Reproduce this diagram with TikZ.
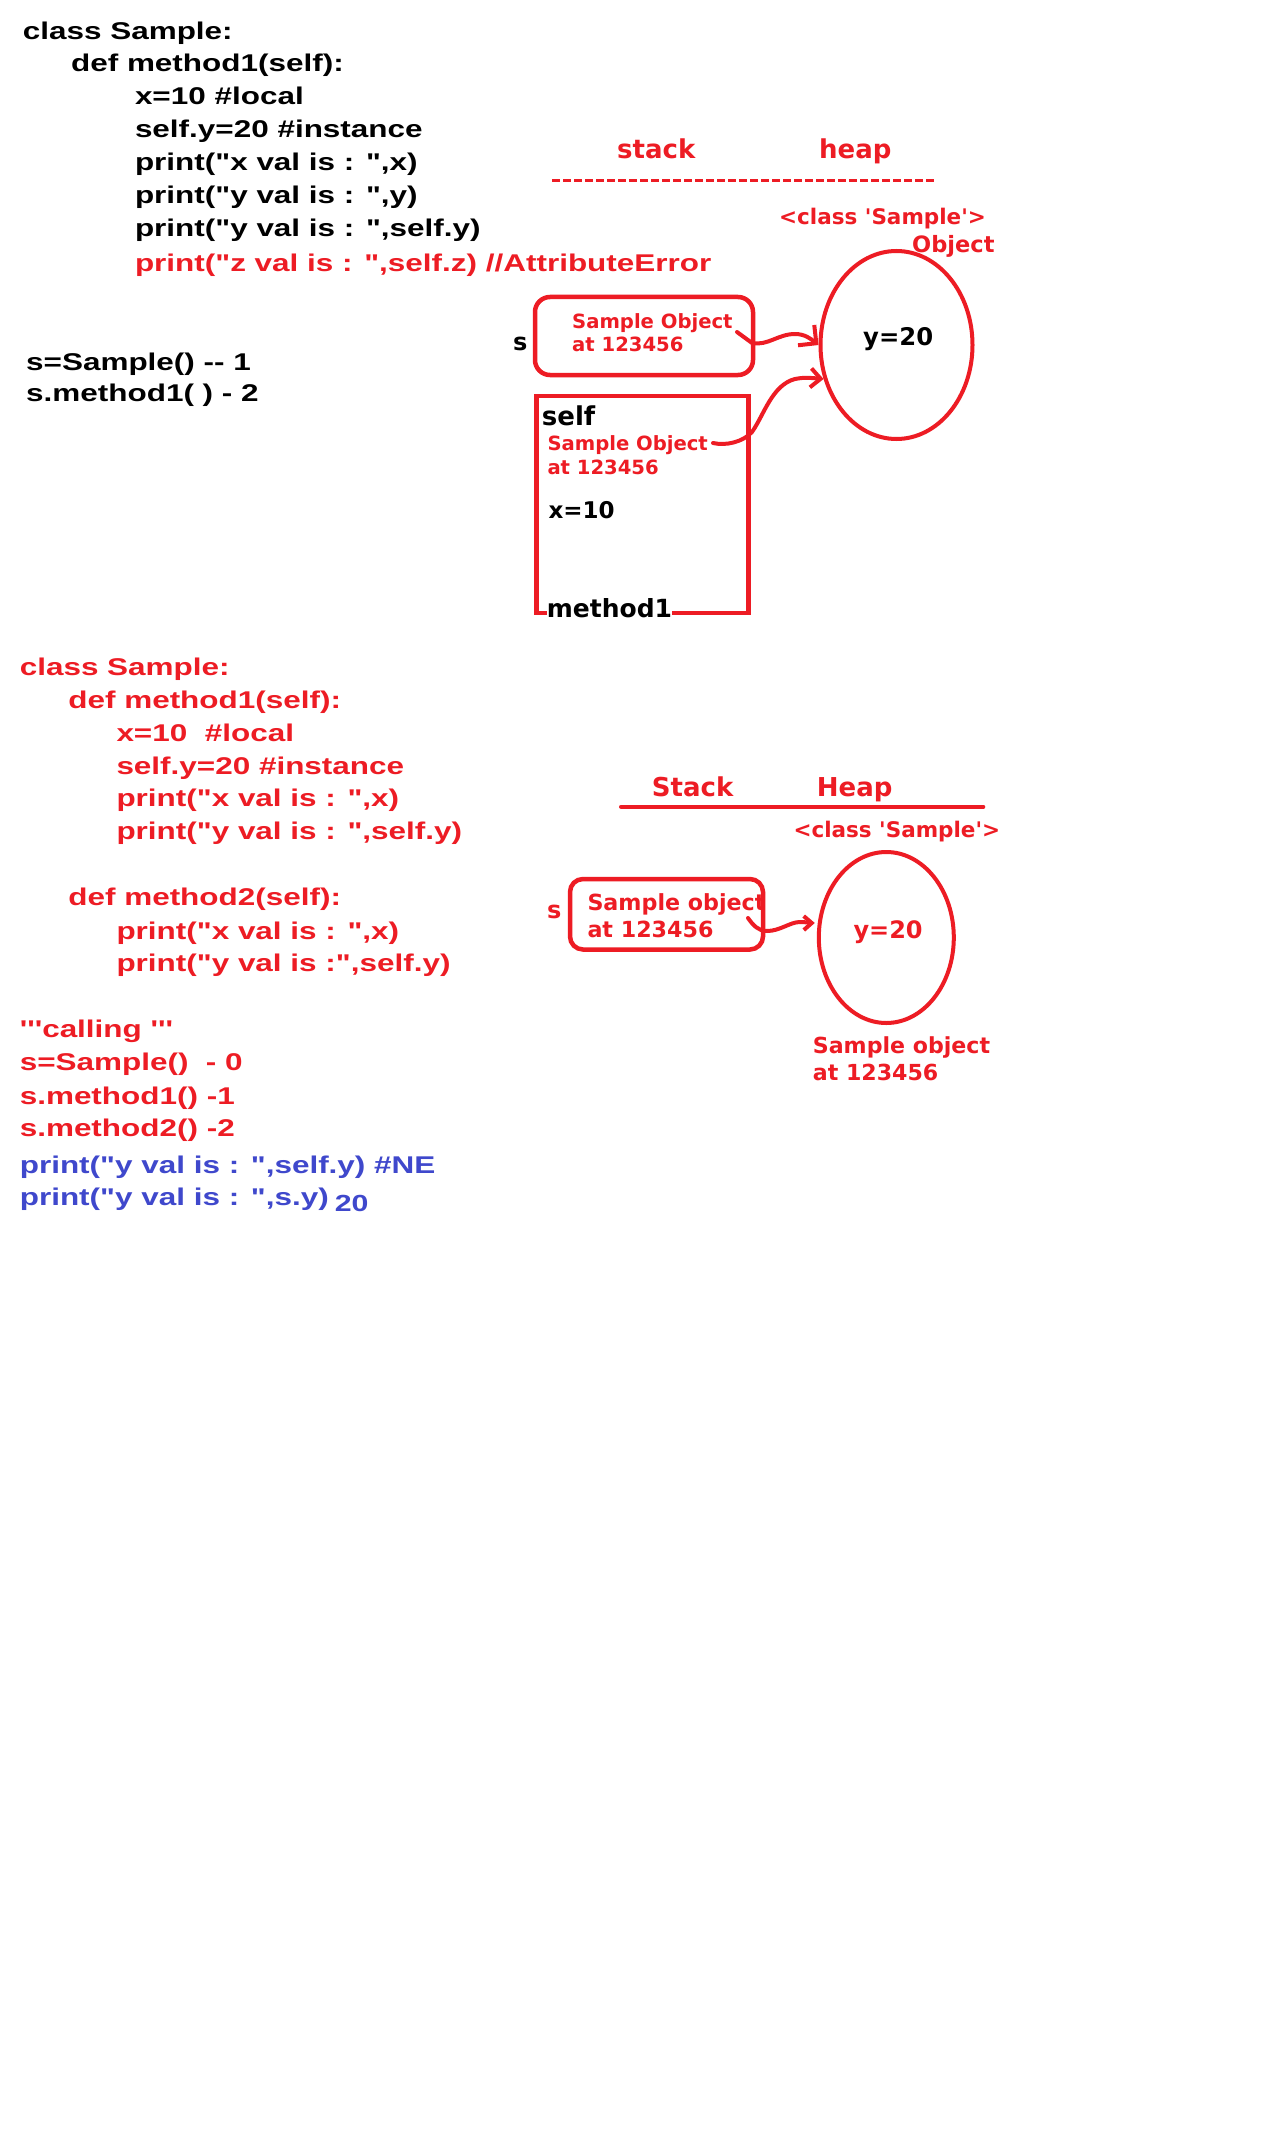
\documentclass[tikz,border=0pt]{standalone}
\usepackage{fontspec}
\usetikzlibrary{shapes.geometric,arrows.meta}
% code listings: Arial-like bold, set wide
\newfontfamily\codesans[Ligatures=TeXOff,FakeStretch=1.3]{Liberation Sans}
% memory-diagram labels: Verdana-like bold
\newfontfamily\labelsans[Ligatures=TeXOff]{DejaVu Sans}
\newcommand\fsz[1]{\fontsize{#1pt}{#1pt}\selectfont}
\definecolor{pred}{RGB}{237,28,36}
\definecolor{pblue}{RGB}{63,72,204}

\tikzset{
  codeblk/.style={anchor=base west, inner sep=0pt, text=black, font=\codesans\bfseries\fsz{24.2}},
  codered/.style={codeblk, text=pred},
  codeblue/.style={codeblk, text=pblue},
  lbl/.style={anchor=base west, inner sep=0pt, font={\labelsans\bfseries\fsz{#1}}},
  lbl/.default=24,
  redlbl/.style={lbl=#1, text=pred},
  redlbl/.default=24,
  objbox/.style={draw=pred, line width=4.5pt, inner sep=0pt},
  objcircle/.style={ellipse, draw=pred, line width=4pt, inner sep=0pt},
  refarrow/.style={draw=pred, line width=4pt, line cap=round, line join=round},
}

\begin{document}
\begin{tikzpicture}[x=1pt, y=-1pt]
  \fill[white] (0,0) rectangle (1274,2140);
  \useasboundingbox (0,0) rectangle (1274,2140);

  % ---------------- first listing ----------------
  \node[codeblk] (c1) at (22.7,39.3)  {class Sample:};
  \node[codeblk] (c2) at (70.9,71.7)  {def method1(self):};
  \node[codeblk] (c3) at (134.8,105)  {x=10 \#local};
  \node[codeblk] (c4) at (134.8,137.7) {self.y=20 \#instance};
  \node[codeblk] (c5) at (134.8,170.7) {print("x val is : ",x)};
  \node[codeblk] (c6) at (134.8,203.3) {print("y val is : ",y)};
  \node[codeblk] (c7) at (134.8,236.7) {print("y val is : ",self.y)};
  \node[codered] (c8) at (134.8,271.7) {print("z val is : ",self.z) //AttributeError};

  \node[codeblk] (call1) at (26,370)   {s=Sample() -- 1};
  \node[codeblk] (call2) at (26,401.7) {s.method1( ) - 2};

  % ---------------- first memory diagram ----------------
  \node[redlbl=26] (stk1) at (617,159) {stack};
  \node[redlbl=26] (hp1)  at (819,159) {heap};
  \coordinate (sep1a) at (552,180.5);
  \coordinate (sep1b) at (936,180.5);
  \draw[draw=pred, line width=3pt, dash pattern=on 8pt off 3pt] (sep1a) -- (sep1b);

  \node[redlbl=21.5] (cls1) at (779,225)   {<class 'Sample'>};
  \node[redlbl=22.5] (objw) at (912,252.7) {Object};

  \node[objcircle, minimum width=152pt, minimum height=188pt] (heap1) at (896.5,345) {};
  \node[lbl=24.3] (y1) at (863,345) {y=20};

  % reference s
  \node[lbl=24] (s1) at (513,350) {s};
  \node[objbox, rounded corners=15pt, minimum width=218pt, minimum height=78pt] (sbox1) at (644,336) {};
  \node[redlbl=19.6] (sref1a) at (572,329) {Sample Object};
  \node[redlbl=19.6] (sref1b) at (572,352) {at 123456};

  % method1 frame
  \node[objbox, minimum width=212pt, minimum height=217pt] (frame1) at (642.5,504.5) {};
  \node[lbl=26] (self1) at (541.7,425) {self};
  \node[redlbl=19.6] (fref1a) at (547.3,450) {Sample Object};
  \node[redlbl=19.6] (fref1b) at (547.3,474) {at 123456};
  \node[lbl=23] (x1) at (548.3,518.3) {x=10};
  \node[lbl=25, fill=white] (m1) at (546.7,617.3) {method1};

  % arrows to the object
  \coordinate (a1s) at (737,332);
  \draw[refarrow, -{Straight Barb[length=13pt, width=26pt]}]
    (a1s) -- (752,343) .. controls (768,346) and (778,334) .. (795,334)
    .. controls (805,334) and (811,339) .. (heap1.west);
  \coordinate (a2s) at (713,443);
  \draw[refarrow, -{Straight Barb[length=10pt, width=19pt]}]
    (a2s) .. controls (726,446) and (743,442) .. (752,432)
    .. controls (764,415) and (772,385) .. (795,379)
    .. controls (805,377) and (812,378) .. (heap1.205);

  % ---------------- second listing ----------------
  \node[codered] (d1)  at (19.6,675)    {class Sample:};
  \node[codered] (d2)  at (68.2,708.3)  {def method1(self):};
  \node[codered] (d3)  at (116.3,741)   {x=10\ \ \#local};
  \node[codered] (d4)  at (116.3,774.3) {self.y=20 \#instance};
  \node[codered] (d5)  at (116.3,806.7) {print("x val is : ",x)};
  \node[codered] (d6)  at (116.3,839.3) {print("y val is : ",self.y)};
  \node[codered] (d7)  at (68.2,905.7)  {def method2(self):};
  \node[codered] (d8)  at (116.3,939)   {print("x val is : ",x)};
  \node[codered] (d9)  at (116.3,971.7) {print("y val is :",self.y)};

  \node[codered] (e1) at (19.6,1037.3) {'''calling '''};
  \node[codered] (e2) at (19.6,1070.7) {s=Sample()\ \ - 0};
  \node[codered] (e3) at (19.6,1104)   {s.method1() -1};
  \node[codered] (e4) at (19.6,1136.7) {s.method2() -2};
  \node[codeblue] (e5) at (19.6,1173.3) {print("y val is : ",self.y) \#NE};
  \node[codeblue] (e6) at (19.6,1205)   {print("y val is : ",s.y)};
  \node[codeblue, font=\codesans\bfseries\fsz{23.3}] (e7) at (334.7,1211.7) {20};

  % ---------------- second memory diagram ----------------
  \node[redlbl=26] (stk2) at (651.7,796.7) {Stack};
  \node[redlbl=26] (hp2)  at (816.7,796.7) {Heap};
  \coordinate (sep2a) at (621,806.7);
  \coordinate (sep2b) at (983.3,806.7);
  \draw[draw=pred, line width=4pt, line cap=round] (sep2a) -- (sep2b);
  \node[redlbl=21.5] (cls2) at (793.3,837.3) {<class 'Sample'>};

  \node[redlbl=24] (s2) at (547,918) {s};
  \node[objbox, rounded corners=13pt, minimum width=193pt, minimum height=70.5pt] (sbox2) at (666.5,914.25) {};
  \node[redlbl=22.2] (sref2a) at (587.3,910)   {Sample object};
  \node[redlbl=22.2] (sref2b) at (587.3,937.3) {at 123456};

  \node[objcircle, minimum width=135pt, minimum height=171pt] (heap2) at (886.3,937.5) {};
  \node[redlbl=24] (y2) at (853.3,938.3) {y=20};
  \node[redlbl=22.1] (oid2a) at (812.7,1053.3) {Sample object};
  \node[redlbl=22.1] (oid2b) at (812.7,1080.7) {at 123456};

  \coordinate (a3s) at (748,918);
  \draw[refarrow, -{Straight Barb[length=8pt, width=14pt]}, shorten >=3pt]
    (a3s) .. controls (753,925) and (758,931) .. (767,931)
    .. controls (780,931) and (790,922) .. (800,922)
    .. controls (806,922) and (810,923) .. (heap2.168);
\end{tikzpicture}
\end{document}
